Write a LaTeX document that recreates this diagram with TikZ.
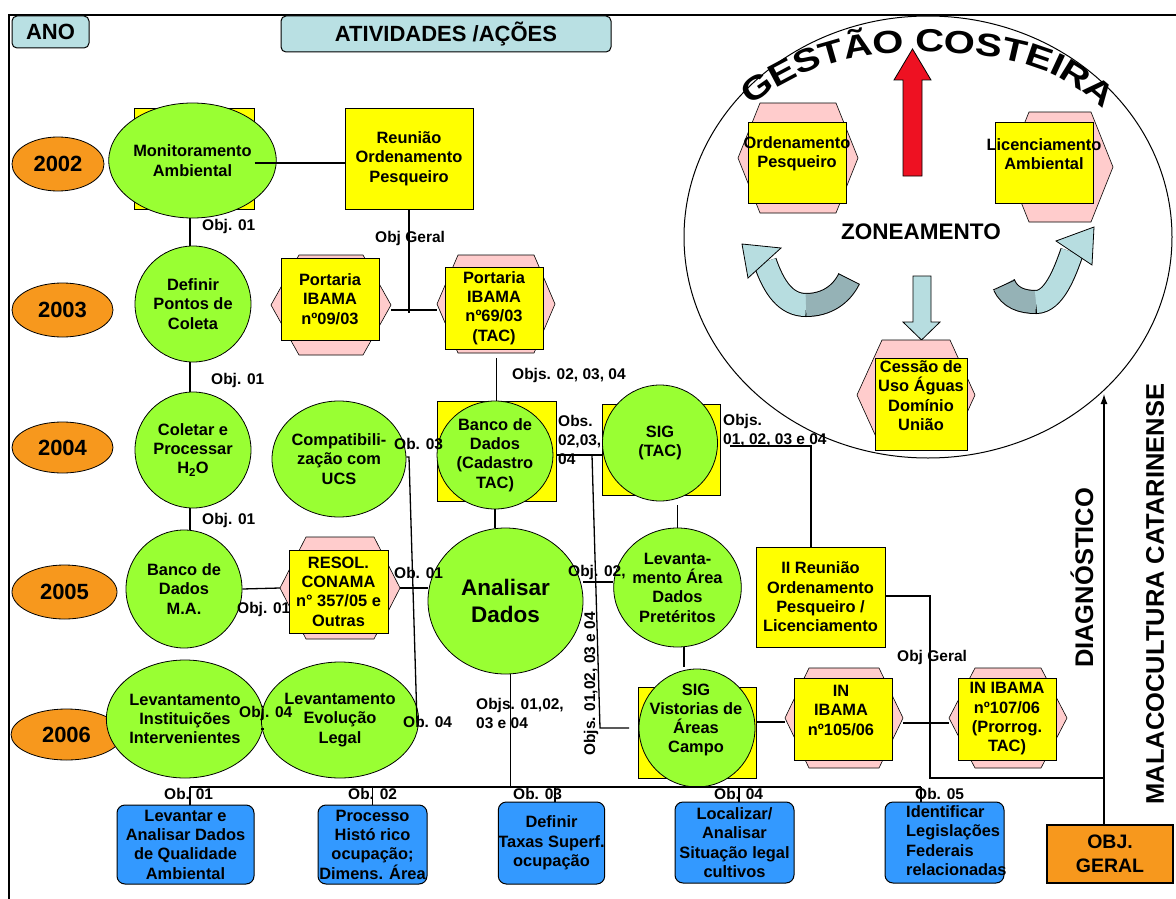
\documentclass[tikz,border=0pt]{standalone}
\usepackage{fontspec}
\setmainfont{Liberation Sans}
\usetikzlibrary{shapes.geometric,arrows.meta}
\definecolor{yelc}{HTML}{FFFF00}
\definecolor{grnc}{HTML}{99FF33}
\definecolor{pinkc}{HTML}{FFCCCC}
\definecolor{orgc}{HTML}{F7981D}
\definecolor{cyanc}{HTML}{B9E0E3}
\definecolor{bluc}{HTML}{3399FF}
\definecolor{redc}{HTML}{EE1122}
\definecolor{arlt}{HTML}{B7DDE0}
\definecolor{ardk}{HTML}{95B2B6}
\newcommand\mynf{\bfseries\fontsize{16.4}{19.3}\selectfont}
\newcommand\mylf{\bfseries\fontsize{15.5}{19}\selectfont}
\newcommand\hexbox[6]{\draw[hexst] (#2-#4,#3) -- (#2-#4+#6,#3-#5) -- (#2+#4-#6,#3-#5) -- (#2+#4,#3) -- (#2+#4-#6,#3+#5) -- (#2-#4+#6,#3+#5) -- cycle;
 \coordinate (#1L) at (#2-#4,#3); \coordinate (#1R) at (#2+#4,#3);}
\begin{document}
\begin{tikzpicture}[x=1pt,y=-1pt,
 conn/.style={line width=1.3pt},
 yel/.style={rectangle, draw=black, line width=1pt, fill=yelc, inner sep=0pt, align=center, font=\mynf},
 grn/.style={ellipse, draw=black, line width=0.8pt, fill=grnc, inner sep=0pt, align=center, font=\mynf},
 hexst/.style={draw=black, line width=0.6pt, fill=pinkc},
 yr/.style={ellipse, draw=black, line width=0.8pt, fill=orgc, inner sep=0pt, font=\bfseries\fontsize{22}{22}\selectfont},
 lbl/.style={font=\mylf, inner sep=0pt, anchor=west, align=left},
 blu/.style={rectangle, rounded corners=8pt, draw=black, line width=1pt, fill=bluc, inner sep=0pt, align=center, font=\mynf},
 hdr/.style={rectangle, rounded corners=5pt, draw=black, line width=1pt, fill=cyanc, inner sep=0pt, font=\bfseries\fontsize{22}{22}\selectfont},
 txt/.style={inner sep=0pt, align=center, font=\mynf},
 gcl/.style={anchor=base, inner sep=0pt, font=\bfseries\fontsize{32}{32}\selectfont},
]
\useasboundingbox (0,0) rectangle (1176,899);
\fill[white] (0,0) rectangle (1176,899);
% frame
\draw[line width=1.8pt] (9,899) -- (9,15) -- (1176,15);
% headers
\node[hdr, minimum width=77pt, minimum height=32pt] (ano) at (50.5,32) {ANO};
\node[hdr, minimum width=330pt, minimum height=36pt] (ati) at (446,34) {ATIVIDADES /AÇÕES};

% ---------- Gestao costeira circle ----------
\node[ellipse, draw=black, line width=1pt, minimum width=488pt, minimum height=442pt, inner sep=0pt] (gc) at (928,237) {};
\foreach \ch/\x/\y/\r [count=\i] in {G/757/87/35, E/782.1/71.6/28, S/806.7/60.1/22, T/831.4/51.6/16, Ã/857.8/45.5/10, O/888.1/41.8/4, C/929.8/40.7/-1, O/960.3/42.0/-4, S/989.5/45.1/-8, T/1015.2/49.9/-13, E/1040.3/57.1/-19, I/1058.3/64.4/-25, R/1076.3/74.2/-32, A/1100.0/91.4/-40}
  \node[gcl, rotate=\r] (gcl\i) at ({\x+11.5*sin(\r)},{\y+11.5*cos(\r)}) {\scalebox{1.25}[1]{\ch}};
% red arrow
\draw[line width=0.8pt, fill=redc] (903,176) -- (903,80) -- (894,80) -- (912.5,49) -- (931,80) -- (922,80) -- (922,176) -- cycle;
% ordenamento
\hexbox{ordh}{798}{158}{60}{55}{22}
\node[yel, minimum width=98pt, minimum height=81pt] (ordsq) at (797,162.5) {};
\node[txt] (ordt) at (797,154) {Ordenamento\\Pesqueiro};
% licenciamento
\hexbox{lich}{1060}{167}{53}{55}{22}
\node[yel, minimum width=98pt, minimum height=81pt] (licsq) at (1044,162.5) {};
\node[txt] (lict) at (1044,154) {Licenciamento\\Ambiental};
\node[font=\bfseries\fontsize{22.5}{22.5}\selectfont, inner sep=0pt] (zon) at (921,232) {ZONEAMENTO};
% curved arrows
\draw[line width=24pt] (765,262) .. controls (774,288) and (786,305) .. (806,305) .. controls (826,305) and (841,295) .. (849,279);
\draw[line width=22pt, arlt] (765,262) .. controls (774,288) and (786,305) .. (806,305);
\draw[line width=22pt, ardk] (806,305) .. controls (826,305) and (841,295) .. (849,279);
\draw[line width=0.8pt] (859.7,284.4) -- (838.3,273.6);
\draw[line width=0.8pt, fill=arlt] (742,244) -- (781,248) -- (748,278) -- cycle;
\draw[line width=24pt] (1004,285) .. controls (1010,298) and (1022,302) .. (1036,302) .. controls (1054,302) and (1065,272) .. (1072,252);
\draw[line width=22pt, ardk] (1004,285) .. controls (1010,298) and (1022,302) .. (1036,302);
\draw[line width=22pt, arlt] (1036,302) .. controls (1054,302) and (1065,272) .. (1072,252);
\draw[line width=0.8pt] (1015,280) -- (993,290);
\draw[line width=0.8pt, fill=arlt] (1094,227) -- (1092,265) -- (1056,241) -- cycle;
% down arrow
\draw[line width=0.8pt, fill=arlt] (913,276) -- (931,276) -- (931,322) -- (940,322) -- (921.5,340) -- (903,322) -- (913,322) -- cycle;
% cessao
\hexbox{cesh}{916}{395}{59}{55}{25}
\node[yel, minimum width=92pt, minimum height=92pt] (cessq) at (921,404) {};
\node[txt] (cest) at (921,395.5) {Cessão de\\Uso Águas\\Domínio\\União};

% ---------- years ----------
\node[yr, minimum width=92pt, minimum height=54pt] (y02) at (58,164) {2002};
\node[yr, minimum width=101pt, minimum height=54pt] (y03) at (62.5,310) {2003};
\node[yr, minimum width=101pt, minimum height=51pt] (y04) at (62.5,447.5) {2004};
\node[yr, minimum width=105pt, minimum height=54pt] (y05) at (64.5,592) {2005};
\node[yr, minimum width=111pt, minimum height=51pt] (y06) at (66.5,734.5) {2006};

% ---------- activities ----------
\node[yel, minimum width=120pt, minimum height=101pt] (monsq) at (194,158.5) {};
\node[grn, minimum width=117pt, minimum height=115pt] (mon) at (192.5,160.5) {Monitoramento\\Ambiental};
\node[yel, minimum width=128pt, minimum height=101pt] (reu) at (409,158.5) {Reunião\\Ordenamento\\Pesqueiro};
\node[grn, minimum width=116pt, minimum height=116pt] (def) at (193,304) {Definir\\Pontos de\\Coleta};
\hexbox{p09h}{331}{305}{60}{50}{28}
\node[yel, minimum width=98pt, minimum height=82pt] (p09) at (330,299) {Portaria\\IBAMA\\nº09/03};
\hexbox{p69h}{496}{304}{59}{49}{21}
\node[yel, minimum width=98pt, minimum height=82pt] (p69) at (494,308) {Portaria\\IBAMA\\nº69/03\\(TAC)};
\node[grn, minimum width=116pt, minimum height=116pt] (col) at (193,450) {Coletar e\\Processar\\H\textsubscript{2}O};
\node[grn, minimum width=115pt, minimum height=116pt] (comp) at (339,459) {Compatibili-\\zação com\\UCS};
\node[yel, minimum width=119pt, minimum height=100pt] (bdcsq) at (496.5,451) {};
\node[grn, minimum width=116pt, minimum height=108pt] (bdc) at (495,455) {Banco de\\Dados\\(Cadastro\\TAC)};
\node[yel, minimum width=118pt, minimum height=91pt] (sigsq) at (661,449.5) {};
\node[grn, minimum width=115pt, minimum height=116pt] (sig) at (660,443) {SIG\\(TAC)};
\node[grn, minimum width=116pt, minimum height=118pt] (bma) at (184,589) {Banco de\\Dados\\M.A.};
\hexbox{resh}{340}{588}{60}{51}{26}
\node[yel, minimum width=99pt, minimum height=83pt] (res) at (338.5,591.5) {RESOL.\\CONAMA\\n° 357/05 e\\Outras};
\node[grn, minimum width=155pt, minimum height=146pt, font=\bfseries\fontsize{22.5}{27}\selectfont] (ana) at (505.5,601) {Analisar\\Dados};
\node[grn, minimum width=117pt, minimum height=119pt] (lad) at (677.5,587.5) {Levanta-\\mento Área\\Dados\\Pretéritos};
\node[yel, minimum width=129pt, minimum height=100pt] (reu2) at (820.5,597) {II Reunião\\Ordenamento\\Pesqueiro /\\Licenciamento};
\node[grn, minimum width=110pt, minimum height=118pt] (lii) at (185,719) {Levantamento\\Instituições\\Intervenientes};
\node[grn, minimum width=114pt, minimum height=116pt] (lel) at (340,720) {Levantamento\\Evolução\\Legal};
\node[yel, minimum width=118pt, minimum height=91pt] (sigvsq) at (697,732.5) {};
\node[grn, minimum width=116pt, minimum height=118pt] (sigv) at (697,728) {};
\node[txt] (sigvt) at (696,720) {SIG\\Vistorias de\\Áreas\\Campo};
\hexbox{inah}{844}{718}{59}{50}{24}
\node[yel, minimum width=98pt, minimum height=82pt] (ina) at (843,719) {};
\node[txt] (inat) at (841,710.5) {IN\\IBAMA\\nº105/06};
\hexbox{inbh}{1008}{718}{59}{50}{26}
\node[yel, minimum width=98pt, minimum height=82pt] (inb) at (1007,719) {IN IBAMA\\nº107/06\\(Prorrog.\\TAC)};

% ---------- objectives ----------
\node[blu, minimum width=137pt, minimum height=79pt] (b1) at (185.5,844.5) {Levantar e\\Analisar Dados\\de Qualidade\\Ambiental};
\node[blu, minimum width=109pt, minimum height=79pt] (b2) at (372.5,844.5) {Processo\\Histó rico\\ocupação;\\Dimens. Área};
\node[blu, minimum width=101pt, minimum height=82pt] (b3) at (551.5,843) {Definir\\Taxas Superf.\\ocupação};
\node[blu, minimum width=119pt, minimum height=81pt] (b4) at (734.5,842.5) {Localizar/\\Analisar\\Situação legal\\cultivos};
\node[blu, minimum width=119pt, minimum height=81pt] (b5) at (944.5,842.5) {};
\node[txt, align=left, anchor=west] (b5t) at (906,840.5) {Identificar\\Legislações\\Federais\\relacionadas};
\node[rectangle, draw=black, line width=1.2pt, fill=orgc, minimum width=126pt, minimum height=58pt, inner sep=0pt, align=center, font=\bfseries\fontsize{19.5}{24}\selectfont] (objg) at (1110,854) {OBJ.\\GERAL};
\node[rotate=90, inner sep=0pt, font=\bfseries\fontsize{25.5}{25.5}\selectfont] (diag) at (1082,578) {DIAGNÓSTICO};
\node[rotate=90, inner sep=0pt, font=\bfseries\fontsize{25.5}{25.5}\selectfont] (mala) at (1155,594) {MALACOCULTURA CATARINENSE};

% ---------- connectors ----------
\draw[conn] (monsq.east |- 0,163) -- (reu.west |- 0,163);
\draw[conn] (mon.south -| 190,0) -- (def.north -| 190,0);
\draw[conn] (def.south -| 190,0) -- (col.north -| 190,0);
\draw[conn] (col.south -| 190,0) -- (bma.north -| 190,0);
\coordinate (j1) at (409,310);
\coordinate (j1b) at (409,313);
\draw[conn] (reu.south) -- (j1b);
\draw[conn] (p09hR |- j1) -- (p69hL |- j1);
\draw[conn] (bdcsq.north |- 0,358) -- (bdcsq.north);
\draw[conn] (bdc.south) -- (bdc.south |- ana.north);
\coordinate (jb) at (592,455);
\coordinate (jc) at (600,728);
\coordinate (jc2) at (629,728);
\draw[conn] (bdcsq.east |- jb) -- (sigsq.west |- jb);
\draw[conn] (jb) -- (jc) -- (jc2);
\coordinate (jd0) at (730,446);
\coordinate (jd) at (811,446);
\draw[conn] (jd0) -- (jd) -- (jd |- reu2.north);
\draw[conn] (lad.north |- 0,505) -- (lad.north);
\draw[conn] (lad.south -| 684,0) -- (684,667);
\draw[conn] (ana.east |- 0,582) -- (lad.west |- 0,582);
\draw[conn] (bma.east) -- (reshL);
\draw[conn] (reshR) -- (reshR -| ana.west);
\draw[conn] ([yshift=-10pt]lii.east) -- ([yshift=-10pt]lii.east -| lel.west);
\coordinate (jk1) at (409,457);
\coordinate (jk2) at (417,722);
\draw[conn] (comp.east |- jk1) -- (jk1) -- (jk2) -- (lel.east |- jk2);
\coordinate (bl1) at (190,787);
\coordinate (bl5) at (921,787);
\draw[conn] (bl1) -- (bl5);
\draw[conn] ([xshift=5pt]ana.south) -- ([xshift=5pt]ana.south |- bl1);
\draw[conn] (bl1) -- (bl1 |- b1.north);
\draw[conn] (b2.north |- bl1) -- (b2.north);
\draw[conn] (bl1 -| 555,0) -- (b3.north -| 555,0);
\draw[conn] (bl1 -| 739,0) -- (b4.north -| 739,0);
\draw[conn] (bl5) -- (bl5 |- b5.north);
\draw[conn] (sigvsq.east |- 0,722) -- (inahL |- 0,722);
\draw[conn] (inahR |- 0,723) -- (inbhL |- 0,723);
\coordinate (je) at (930,778);
\coordinate (ja) at (1104,778);
\coordinate (gctip) at (1104,394);
\draw[conn] (reu2.east |- 0,596) -| (je) -- (ja);
\draw[conn, -{Latex[length=10pt,width=7pt]}] (ja |- objg.north) -- (gctip);

% ---------- labels ----------
\node[lbl] (l1) at (202,226) {Obj. 01};
\node[lbl] (l2) at (375,238) {Obj Geral};
\node[lbl] (l3) at (211,380) {Obj. 01};
\node[lbl] (l4) at (202,520) {Obj. 01};
\node[lbl] (l5) at (512,375) {Objs. 02, 03, 04};
\node[lbl] (l6) at (394,444) {Ob. 03};
\node[lbl] (l7) at (558,440) {Obs.\\02,03,\\04};
\node[lbl] (l8) at (723,430.5) {Objs.\\01, 02, 03 e 04};
\node[lbl] (l9) at (237,609) {Obj. 01};
\node[lbl] (l10) at (394,573) {Ob. 01};
\node[lbl] (l11) at (568,572) {Obj. 02,};
\node[lbl] (l12) at (239,713) {Obj. 04};
\node[lbl] (l13) at (403,722) {Ob. 04};
\node[lbl] (l14) at (476,713) {Objs. 01,02,\\03 e 04};
\node[lbl, anchor=center, rotate=90] (l15) at (591,684) {Objs. 01,02, 03 e 04};
\node[lbl] (l16) at (897,657) {Obj Geral};
\node[lbl] (o1) at (164,794) {Ob. 01};
\node[lbl] (o2) at (348,794) {Ob. 02};
\node[lbl] (o3) at (513,794) {Ob. 03};
\node[lbl] (o4) at (714,794) {Ob. 04};
\node[lbl] (o5) at (915,794) {Ob. 05};
\end{tikzpicture}
\end{document}
